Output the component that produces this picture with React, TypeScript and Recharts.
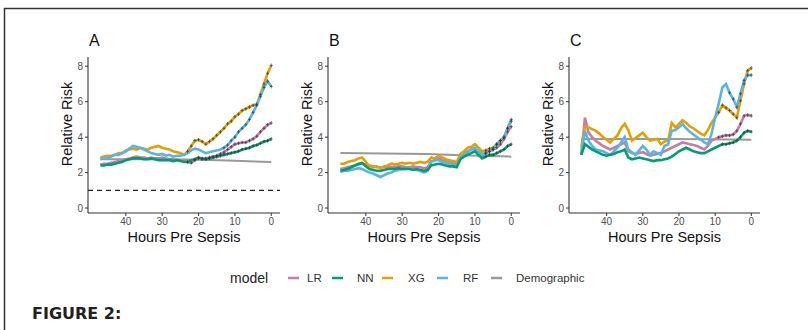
import React from 'react';
import { LineChart, Line, XAxis, YAxis, ReferenceLine } from 'recharts';

const HOURS = [47,46,45,44,43,42,41,40,39,38,37,36,35,34,33,32,31,30,29,28,27,26,25,24,23,22,21,20,19,18,17,16,15,14,13,12,11,10,9,8,7,6,5,4,3,2,1,0];
const X_TICKS = [0, 10, 20, 30, 40];
const Y_TICKS = [0, 2, 4, 6, 8];
const MODELS = ['LR', 'NN', 'XG', 'RF', 'Demographic'];
const COLORS: Record<string, string> = { LR: '#CC79A7', NN: '#009E73', XG: '#E69F00', RF: '#56B4E9', Demographic: '#999999' };
const PANEL_LABELS = ['A', 'B', 'C'];

const A_XG = [2.85,2.9,2.95,2.95,3.0,3.1,3.1,3.25,3.3,3.35,3.3,3.4, 3.35,3.3,3.4,3.45,3.5,3.4,3.35,3.3,3.2,3.15,3.1,3.0, 3.2,3.5,3.8,3.85,3.75,3.6,3.75,3.9,4.1,4.3,4.5,4.75, 4.9,5.15,5.3,5.5,5.6,5.7,5.8,5.85,6.4,7.0,7.6,8.05];
const A_RF = [2.75,2.85,2.8,2.9,3.0,3.0,3.1,3.2,3.35,3.5,3.45,3.4, 3.3,3.2,3.1,3.05,3.0,3.05,2.95,3.0,2.9,2.95,2.95,3.0, 3.1,3.25,3.35,3.3,3.2,3.1,3.15,3.2,3.25,3.3,3.4,3.55, 3.8,4.0,4.3,4.5,4.7,5.0,5.4,5.8,6.3,6.8,7.15,6.85];
const A_LR = [2.45,2.5,2.5,2.55,2.6,2.65,2.7,2.75,2.8,2.85,2.9,2.85, 2.85,2.8,2.85,2.8,2.8,2.85,2.8,2.75,2.75,2.7,2.7,2.65, 2.6,2.55,2.7,2.8,2.75,2.8,2.85,2.9,2.95,3.05,3.15,3.3, 3.45,3.6,3.65,3.7,3.7,3.8,3.9,4.05,4.3,4.5,4.7,4.8];
const A_NN = [2.4,2.4,2.45,2.45,2.5,2.55,2.6,2.7,2.75,2.8,2.8,2.8, 2.75,2.75,2.8,2.75,2.7,2.7,2.7,2.7,2.65,2.7,2.65,2.6, 2.6,2.7,2.75,2.85,2.8,2.75,2.8,2.85,2.9,2.95,3.0,3.05, 3.1,3.15,3.2,3.3,3.35,3.4,3.5,3.55,3.65,3.75,3.8,3.9];

const B_XG = [2.5,2.5,2.6,2.65,2.7,2.8,2.85,2.6,2.35,2.3,2.35,2.25, 2.35,2.4,2.5,2.45,2.5,2.55,2.5,2.55,2.5,2.55,2.6,2.55, 2.6,2.85,2.8,2.95,2.85,2.75,2.7,2.65,2.6,3.05,3.2,3.4, 3.45,3.6,3.4,3.2,3.25,3.35,3.4,3.6,3.8,4.0,4.5,4.9];
const B_RF = [2.05,2.1,2.1,2.15,2.2,2.25,2.2,2.1,2.0,1.95,1.85,1.75, 1.85,1.95,2.0,2.1,2.15,2.2,2.2,2.25,2.2,2.15,2.1,2.0, 2.1,2.6,2.7,2.7,2.6,2.55,2.5,2.45,2.4,2.85,3.0,3.15, 3.3,3.4,3.2,3.0,3.1,3.2,3.3,3.6,3.8,4.0,4.5,5.0];
const B_LR = [2.2,2.25,2.3,2.35,2.4,2.45,2.5,2.45,2.4,2.35,2.3,2.3, 2.3,2.35,2.3,2.3,2.35,2.35,2.3,2.3,2.35,2.3,2.3,2.25, 2.3,2.65,2.7,2.8,2.7,2.65,2.6,2.55,2.5,2.9,3.1,3.2, 3.3,3.35,3.2,3.05,3.1,3.2,3.3,3.4,3.6,3.9,4.3,4.6];
const B_NN = [2.1,2.15,2.2,2.3,2.4,2.5,2.55,2.35,2.2,2.15,2.1,2.1, 2.15,2.2,2.2,2.2,2.25,2.2,2.2,2.2,2.15,2.2,2.15,2.1, 2.15,2.4,2.45,2.5,2.45,2.4,2.35,2.35,2.3,2.75,2.9,3.0, 3.1,3.2,3.0,2.8,2.9,3.0,3.0,3.1,3.2,3.3,3.5,3.6];

const C_XG = [3.4,4.6,4.55,4.45,4.35,4.2,4.0,3.85,3.7,3.9,4.1,4.5, 4.75,4.4,3.8,3.95,4.1,4.25,4.0,3.8,3.85,3.9,3.6,3.75, 3.8,4.8,4.55,4.75,4.95,4.8,4.6,4.5,4.35,4.2,4.1,4.4, 4.8,5.1,5.4,5.8,5.65,5.5,5.3,5.1,6.05,7.0,7.75,7.9];
const C_RF = [3.0,4.35,3.8,3.5,3.3,3.25,3.2,3.1,3.0,3.2,3.4,3.7, 4.0,3.3,3.15,3.0,3.25,3.5,3.3,3.0,3.2,3.1,3.0,3.5, 3.6,4.35,4.4,4.55,4.75,4.5,4.3,4.15,4.0,3.85,3.7,3.6, 4.2,5.1,5.9,6.8,7.0,6.5,6.15,5.7,6.45,7.2,7.5,7.5];
const C_LR = [3.0,5.1,4.25,4.0,3.8,3.65,3.5,3.4,3.3,3.4,3.5,3.6, 3.7,3.2,3.1,3.05,3.1,3.15,3.05,2.95,3.0,3.05,3.1,3.2, 3.3,3.4,3.5,3.6,3.7,3.65,3.6,3.55,3.5,3.4,3.3,3.5, 3.8,3.9,4.0,4.05,4.1,4.1,4.15,4.35,4.75,5.2,5.25,5.2];
const C_NN = [3.0,3.6,3.45,3.3,3.2,3.1,3.0,2.95,3.0,3.05,3.15,3.2, 3.3,2.85,2.75,2.8,2.85,2.8,2.75,2.7,2.65,2.7,2.7,2.75, 2.8,2.9,3.05,3.2,3.3,3.4,3.3,3.2,3.15,3.1,3.1,3.2, 3.3,3.4,3.5,3.6,3.6,3.65,3.7,3.8,4.0,4.25,4.35,4.3];

const DEMO_HOURS = [47, 35, 23, 12, 0];
const A_DEMO = [2.75, 2.75, 2.74, 2.68, 2.6];
const B_DEMO = [3.1, 3.08, 3.05, 2.97, 2.9];
const C_DEMO = [3.9, 3.9, 3.9, 3.88, 3.85];

// hours at or below which significance crosses are drawn [LR, NN, XG, RF]
const A_MARK = [23, 21, 23, 13];
const B_MARK = [7, 7, 7, 7];
const C_MARK = [9, 8, 9, 6];

const FONT = '"Liberation Sans", Arial, sans-serif';
const TOP = 57;
const BOTTOM = 213;

type PanelProps = {
  pl: number; pr: number; lr: number[]; nn: number[]; xg: number[]; rf: number[];
  demo: number[]; marks: number[]; refLine?: boolean;
};

function makeDot(thr: number) {
  return (p: any) => {
    const { cx, cy, payload, index } = p;
    if (payload == null || payload.h > thr || cx == null || cy == null) return <g key={`n${index}`} />;
    return (
      <path key={`d${index}`} d={`M${cx - 1.5},${cy}h3M${cx},${cy - 1.8}v3.6`} stroke="#333" strokeOpacity={0.8} strokeWidth={0.8} fill="none" />
    );
  };
}

function Panel({ pl, pr, lr, nn, xg, rf, demo, marks, refLine }: PanelProps) {
  const rows = HOURS.map((h, i) => ({ h, LR: lr[i], NN: nn[i], XG: xg[i], RF: rf[i] }));
  const demoRows = DEMO_HOURS.map((h, i) => ({ h, v: demo[i] }));
  const offX = pl - 60;
  const w = pr - pl + 68;
  const tickStyle = { fontSize: 10, fill: '#4d4d4d', fontFamily: FONT };
  return (
    <div style={{ position: 'absolute', left: offX, top: 0 }}>
      <LineChart width={w} height={260} data={rows} margin={{ top: TOP, right: 8, left: 30, bottom: 260 - BOTTOM - 40 }}>
        <XAxis
          type="number" dataKey="h" domain={[-2.4, 50.4]} reversed ticks={X_TICKS} allowDataOverflow
          height={40} tick={tickStyle} tickSize={3} tickMargin={2}
          tickLine={{ stroke: '#333' }} axisLine={{ stroke: '#333', strokeWidth: 1.1 }}
          label={{
            content: () => (
              <text x={(pl + pr) / 2 - offX} y={242} textAnchor="middle" fontSize={14.5} fontFamily={FONT} fill="#111">
                Hours Pre Sepsis
              </text>
            ),
          }}
        />
        <YAxis
          type="number" domain={[-0.28, 8.52]} ticks={Y_TICKS} allowDataOverflow width={30}
          tick={tickStyle} tickSize={3} tickMargin={2}
          tickLine={{ stroke: '#333' }} axisLine={{ stroke: '#333', strokeWidth: 1.1 }}
          label={{
            content: () => (
              <text x={0} y={0} transform={`translate(${60 - 16},${124}) rotate(-90)`} textAnchor="middle" fontSize={14.5} fontFamily={FONT} fill="#111">
                Relative Risk
              </text>
            ),
          }}
        />
        {refLine && <ReferenceLine y={1} stroke="#222" strokeDasharray="5 4" strokeWidth={1.2} />}
        <Line data={demoRows} dataKey="v" stroke={COLORS.Demographic} strokeWidth={2} dot={false} activeDot={false} isAnimationActive={false} />
        <Line dataKey="LR" stroke={COLORS.LR} strokeWidth={2.6} dot={makeDot(marks[0])} activeDot={false} isAnimationActive={false} />
        <Line dataKey="XG" stroke={COLORS.XG} strokeWidth={2.6} dot={makeDot(marks[2])} activeDot={false} isAnimationActive={false} />
        <Line dataKey="RF" stroke={COLORS.RF} strokeWidth={2.6} dot={makeDot(marks[3])} activeDot={false} isAnimationActive={false} />
        <Line dataKey="NN" stroke={COLORS.NN} strokeWidth={2.6} dot={makeDot(marks[1])} activeDot={false} isAnimationActive={false} />
      </LineChart>
    </div>
  );
}

const LEGEND_SWATCH_X = [288, 332, 382, 437, 491];
const LEGEND_LABEL_X = [307, 357, 408, 463, 516];

export default function App() {
  const panelX = [88, 328, 569];
  return (
    <div style={{ position: 'absolute', left: 0, top: 0, width: 808, height: 330, overflow: 'hidden', background: '#fff' }}>
      <svg width={808} height={330} style={{ position: 'absolute', left: 0, top: 0 }}>
        <line x1={4.5} y1={8} x2={4.5} y2={330} stroke="#333" strokeWidth={1.5} />
        <line x1={4} y1={8.5} x2={808} y2={8.5} stroke="#333" strokeWidth={1.5} />
        {PANEL_LABELS.map((l, i) => (
          <text key={l} x={panelX[i] + 1} y={46} fontSize={16} fontFamily={FONT} fill="#111">{l}</text>
        ))}
        <text x={230} y={283} fontSize={14} fontFamily={FONT} fill="#222">model</text>
        {MODELS.map((m, i) => (
          <g key={m}>
            <line x1={LEGEND_SWATCH_X[i]} x2={LEGEND_SWATCH_X[i] + 11} y1={278} y2={278} stroke={COLORS[m]} strokeWidth={2.5} />
            <text x={LEGEND_LABEL_X[i]} y={282} fontSize={11.5} fontFamily={FONT} fill="#333">{m}</text>
          </g>
        ))}
        <text x={32} y={319} fontSize={16} fontWeight="bold" fontFamily='"DejaVu Sans", sans-serif' fill="#231f20">FIGURE 2:</text>
      </svg>
      <Panel pl={88} pr={280} lr={A_LR} nn={A_NN} xg={A_XG} rf={A_RF} demo={A_DEMO} marks={A_MARK} refLine />
      <Panel pl={328} pr={520} lr={B_LR} nn={B_NN} xg={B_XG} rf={B_RF} demo={B_DEMO} marks={B_MARK} />
      <Panel pl={569} pr={760} lr={C_LR} nn={C_NN} xg={C_XG} rf={C_RF} demo={C_DEMO} marks={C_MARK} />
    </div>
  );
}
